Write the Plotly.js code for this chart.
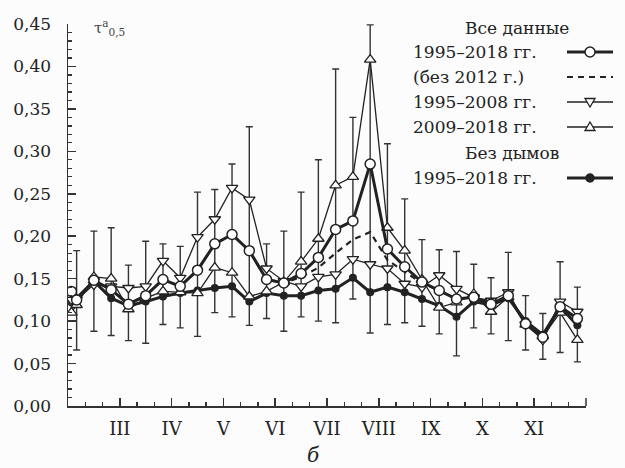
<!DOCTYPE html>
<html><head><meta charset="utf-8">
<script src="https://cdn.plot.ly/plotly-3.0.1.min.js"></script>
<style>html,body{margin:0;padding:0;background:#fcfcfc;}#chart{width:625px;height:468px;}</style>
</head><body><div id="chart"></div>
<script>
// decade index along the axis (0..30 = ten months of three decades)
const decade = [0.2, 0.5, 1.5, 2.5, 3.5, 4.5, 5.5, 6.5, 7.5, 8.5, 9.5, 10.5, 11.5, 12.5, 13.5, 14.5,
  15.5, 16.5, 17.5, 18.5, 19.5, 20.5, 21.5, 22.5, 23.5, 24.5, 25.5, 26.5, 27.5, 28.5, 29.5];
const monthTicks = [3, 6, 9, 12, 15, 18, 21, 24, 27];
const monthLabels = ["III", "IV", "V", "VI", "VII", "VIII", "IX", "X", "XI"];

const allData = [0.135, 0.125, 0.148, 0.137, 0.120, 0.130, 0.149, 0.141, 0.160, 0.191, 0.202,
  0.183, 0.149, 0.145, 0.156, 0.175, 0.208, 0.218, 0.285, 0.185, 0.164,
  0.146, 0.136, 0.126, 0.128, 0.120, 0.130, 0.097, 0.081, 0.117, 0.103];
const no2012 = [0.135, 0.125, 0.148, 0.137, 0.120, 0.130, 0.149, 0.141, 0.160, 0.191, 0.202,
  0.183, 0.149, 0.145, 0.152, 0.163, 0.180, 0.196, 0.205, 0.172, 0.158,
  0.145, 0.136, 0.126, 0.128, 0.120, 0.130, 0.097, 0.081, 0.117, 0.103];
const y1995_2008 = [0.125, 0.125, 0.143, 0.141, 0.139, 0.141, 0.171, 0.151, 0.199, 0.220, 0.257,
  0.243, 0.162, 0.147, 0.141, 0.152, 0.155, 0.173, 0.167, 0.162, 0.144,
  0.140, 0.154, 0.138, 0.128, 0.124, 0.134, 0.096, 0.078, 0.123, 0.111];
const y2009_2018 = [0.110, 0.119, 0.152, 0.150, 0.114, 0.127, 0.135, 0.134, 0.133, 0.163, 0.157,
  0.129, 0.135, 0.146, 0.170, 0.197, 0.260, 0.270, 0.408, 0.210, 0.183,
  0.149, 0.116, 0.122, 0.132, 0.111, 0.128, 0.096, 0.082, 0.110, 0.078];
const noSmoke = [0.122, 0.127, 0.147, 0.127, 0.118, 0.123, 0.129, 0.133, 0.136, 0.139, 0.141,
  0.123, 0.133, 0.130, 0.130, 0.136, 0.138, 0.151, 0.134, 0.140, 0.134,
  0.126, 0.118, 0.105, 0.123, 0.119, 0.127, 0.100, 0.084, 0.117, 0.095];
// error-bar ends (upper / lower) for the whole data set
const errTop = [null, 0.183, 0.206, 0.210, 0.166, 0.194, 0.191, 0.188, 0.252, 0.255, 0.285,
  0.329, 0.191, 0.206, 0.252, 0.290, 0.397, 0.340, 0.449, 0.309, 0.244,
  0.196, 0.184, 0.182, 0.167, 0.151, 0.181, 0.130, 0.109, 0.170, 0.140];
const errBottom = [null, 0.066, 0.088, 0.083, 0.077, 0.074, 0.096, 0.092, 0.082, 0.110, 0.105,
  0.095, 0.103, 0.088, 0.105, 0.100, 0.098, 0.126, 0.086, 0.096, 0.098,
  0.094, 0.085, 0.059, 0.092, 0.085, 0.077, 0.066, 0.055, 0.063, 0.052];

const legendHead1 = "Все данные";
const legendHead2 = "Без дымов";
const legendItems = ["1995–2018 гг.", "(без 2012 г.)", "1995–2008 гг.", "2009–2018 гг.", "1995–2018 гг."];

const INK = "#222";
const FONT = "DejaVu Serif, Liberation Serif, serif";

const errPlus = allData.map((v, i) => errTop[i] == null ? 0 : errTop[i] - v);
const errMinus = allData.map((v, i) => errBottom[i] == null ? 0 : v - errBottom[i]);

const traces = [
  { x: decade, y: allData, mode: "none", showlegend: false, hoverinfo: "skip",
    error_y: { type: "data", symmetric: false, array: errPlus, arrayminus: errMinus,
      color: "#333", thickness: 1.4, width: 3.5 } },
  { x: decade, y: noSmoke, mode: "lines+markers", line: { color: INK, width: 3 },
    marker: { symbol: "circle", size: 8, color: INK } },
  { x: decade, y: y1995_2008, mode: "lines+markers", line: { color: INK, width: 1.3 },
    marker: { symbol: "triangle-down", size: 10, color: "#fff", line: { color: INK, width: 1.3 } } },
  { x: decade, y: y2009_2018, mode: "lines+markers", line: { color: INK, width: 1.3 },
    marker: { symbol: "triangle-up", size: 10, color: "#fff", line: { color: INK, width: 1.3 } } },
  { x: decade, y: no2012, mode: "lines", line: { color: INK, width: 2.2, dash: "6px,5px" } },
  { x: decade, y: allData, mode: "lines+markers", line: { color: INK, width: 3 },
    marker: { symbol: "circle", size: 10, color: "#fff", line: { color: INK, width: 1.5 } } }
];

// plot box in pixels
const L = 68, R = 586, T = 24, B = 406;
const px = x => (x - L) / (R - L);
const py = y => (B - y) / (B - T);

const shapes = [];
const annotations = [];
// closing long tick at the right end of the time axis
shapes.push({ type: "line", xref: "paper", yref: "paper", x0: 1, x1: 1, y0: 0, y1: py(B - 8),
  line: { color: "#333", width: 1.5 } });

annotations.push({ xref: "paper", yref: "paper", x: px(517), y: py(28), text: legendHead1,
  showarrow: false, xanchor: "center", yanchor: "middle", font: { family: FONT, size: 17, color: INK } });
annotations.push({ xref: "paper", yref: "paper", x: px(512), y: py(153), text: legendHead2,
  showarrow: false, xanchor: "center", yanchor: "middle", font: { family: FONT, size: 17, color: INK } });
const rowY = [52, 77, 102, 127, 178];
legendItems.forEach((t, k) => {
  annotations.push({ xref: "paper", yref: "paper", x: px(411), y: py(rowY[k]), text: t,
    showarrow: false, xanchor: "left", yanchor: "middle", font: { family: FONT, size: 17, color: INK } });
});
function seg(yy, w, dash) {
  shapes.push({ type: "line", xref: "paper", yref: "paper", x0: px(567), x1: px(613), y0: py(yy), y1: py(yy),
    line: { color: INK, width: w, dash: dash || "solid" } });
}
function circ(yy, r, fill) {
  shapes.push({ type: "circle", xref: "paper", yref: "paper", x0: px(590 - r), x1: px(590 + r),
    y0: py(yy + r), y1: py(yy - r), fillcolor: fill, line: { color: INK, width: 1.5 } });
}
function tri(yy, down) {
  const s = 5, h = down ? -1 : 1;
  const p = [[590 - s, yy + h * 3.5], [590 + s, yy + h * 3.5], [590, yy - h * 5]];
  shapes.push({ type: "path", xref: "paper", yref: "paper",
    path: "M" + p.map(q => px(q[0]) + "," + py(q[1])).join("L") + "Z",
    fillcolor: "#fff", line: { color: INK, width: 1.3 } });
}
seg(52, 3); circ(52, 5, "#fff");
seg(77, 2.2, "6px,5px");
seg(102, 1.3); tri(102, true);
seg(127, 1.3); tri(127, false);
seg(178, 3); circ(178, 4, INK);

annotations.push({ xref: "paper", yref: "paper", x: px(92), y: py(27), text: "τ<sup>a</sup><sub>0,5</sub>",
  showarrow: false, xanchor: "left", yanchor: "middle", font: { family: FONT, size: 15, color: "#444" } });
annotations.push({ xref: "paper", yref: "paper", x: px(313), y: py(455), text: "<i>б</i>",
  showarrow: false, xanchor: "center", yanchor: "middle", font: { family: FONT, size: 20, color: INK } });

const layout = {
  width: 625, height: 468,
  margin: { l: L, r: 625 - R, t: T, b: 468 - B },
  paper_bgcolor: "#fcfcfc", plot_bgcolor: "#fcfcfc",
  showlegend: false,
  separators: ", ",
  font: { family: FONT, size: 17, color: INK },
  xaxis: {
    range: [0, 30], showgrid: false, zeroline: false, showline: true, linecolor: "#333", linewidth: 1.5,
    tickmode: "array", tickvals: monthTicks, ticktext: monthLabels,
    ticks: "inside", ticklen: 8, tickwidth: 1.5, tickcolor: "#333",
    minor: { tickmode: "linear", tick0: 0, dtick: 1, ticks: "inside", ticklen: 4, tickwidth: 1.3, tickcolor: "#333" },
    tickfont: { family: FONT, size: 18, color: INK }, ticklabelstandoff: 6
  },
  yaxis: {
    range: [0, 0.45], showgrid: false, zeroline: false, showline: true, linecolor: "#333", linewidth: 1.5,
    tickmode: "linear", tick0: 0, dtick: 0.05, tickformat: ".2f",
    ticks: "inside", ticklen: 8, tickwidth: 1.5, tickcolor: "#333",
    minor: { tickmode: "linear", tick0: 0, dtick: 0.01, ticks: "inside", ticklen: 4, tickwidth: 1.3, tickcolor: "#333" },
    tickfont: { family: FONT, size: 17, color: INK }, ticklabelstandoff: 12
  },
  shapes: shapes,
  annotations: annotations
};

Plotly.newPlot("chart", traces, layout, { displayModeBar: false, staticPlot: true });
</script>
</body></html>
